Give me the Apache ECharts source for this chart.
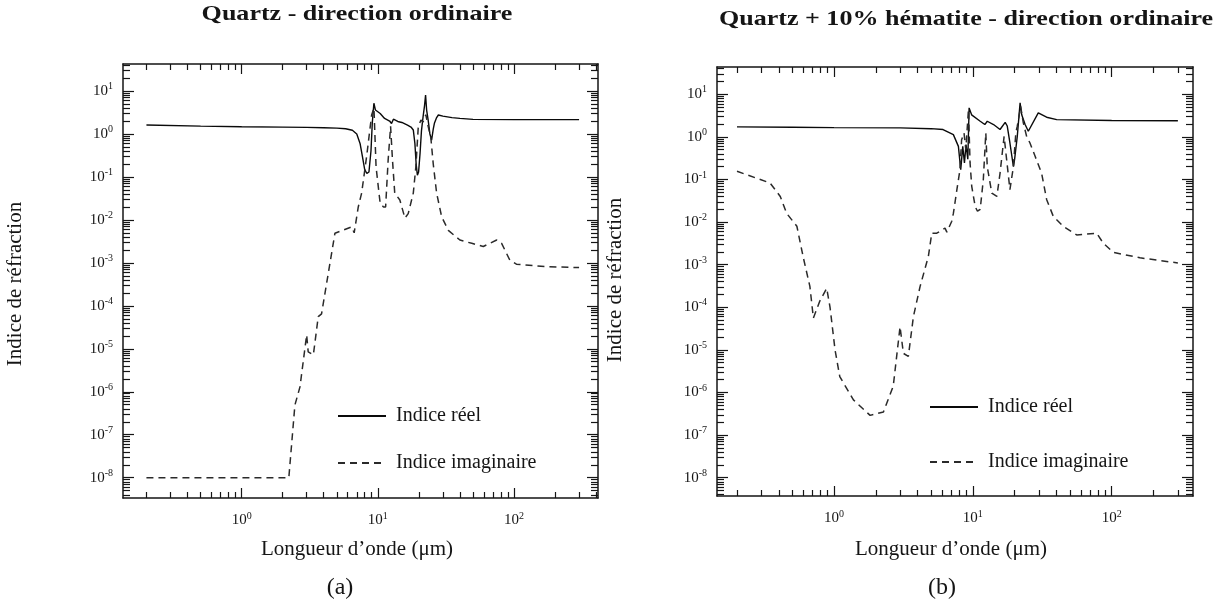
<!DOCTYPE html>
<html><head><meta charset="utf-8">
<script src="https://cdn.jsdelivr.net/npm/echarts@6/dist/echarts.min.js"></script>
<style>html,body{margin:0;padding:0;background:#fff}#c{width:1232px;height:609px}</style>
</head><body><div id="c"></div>
<script>
// ---------- Panel (a): Quartz - direction ordinaire ----------
const realA_lambda = [0.2,0.5,1,2,3,4,5,5.8,6.5,7.0,7.4,7.7,8.0,8.3,8.6,8.9,9.1,9.35,9.6,10.4,11.2,12.2,12.6,13.0,14.0,15.0,16.5,17.5,18.2,18.7,19.1,19.5,19.9,20.4,20.9,21.5,22.0,22.4,22.8,23.4,24.1,24.8,25.5,26,27,27.8,30,35,40,50,100,300];
const realA_n      = [1.62,1.52,1.47,1.44,1.42,1.4,1.37,1.32,1.22,1.0,0.6,0.3,0.15,0.12,0.13,0.4,1.8,5.2,3.6,3.0,2.3,2.0,1.75,2.2,1.95,1.85,1.6,1.45,1.24,0.6,0.2,0.11,0.13,0.35,1.2,2.6,4.5,8.0,3.6,2.1,1.0,0.72,1.3,1.77,2.4,2.76,2.6,2.4,2.3,2.19,2.16,2.15];
const imagA_lambda = [0.2,2.22,2.46,2.68,3.0,3.08,3.36,3.65,3.86,4.84,5.57,6.42,6.7,7.18,7.6,8.27,9.0,9.36,9.7,10.4,11.0,11.4,11.9,12.4,12.8,13.3,14.5,15.8,16.7,18.2,19.0,19.8,20.7,21.5,22.5,23.4,24.5,25.5,27,29.4,32.9,40,48.9,59.4,74.5,81,93,104,174,300];
const imagA_k      = [1e-8,1e-8,4.9e-7,1.3e-6,2.1e-5,8.5e-6,7.2e-6,5.6e-5,6.5e-5,4.9e-3,5.8e-3,6.9e-3,5.0e-3,0.02,0.042,0.3,2.76,4.0,0.17,0.024,0.02,0.02,0.25,1.5,0.25,0.042,0.029,0.011,0.014,0.042,0.17,1.48,2.1,1.9,2.8,1.5,0.8,0.2,0.042,0.0118,5.7e-3,3.4e-3,2.85e-3,2.4e-3,3.4e-3,2.85e-3,1.16e-3,9.3e-4,8.1e-4,7.8e-4];

// ---------- Panel (b): Quartz + 10% hématite - direction ordinaire ----------
const realB_lambda = [0.2,0.5,1,3,5,6.1,7.24,7.87,8.18,8.46,8.7,8.93,9.2,9.4,9.8,11.3,12.2,12.7,14.1,15.7,17.1,17.7,18.5,19.6,20,20.9,21.9,22.5,23.8,25.1,29.6,34,40.2,100,300];
const realB_n      = [1.72,1.68,1.65,1.63,1.56,1.49,1.13,0.6,0.17,0.6,0.245,0.66,0.3,4.8,3.3,2.33,1.95,2.33,1.95,1.49,2.2,1.8,0.72,0.2,0.3,1.03,6.3,3.3,1.95,1.36,3.66,2.9,2.55,2.42,2.4];
const imagB_lambda = [0.2,0.346,0.41,0.456,0.54,0.6,0.67,0.71,0.79,0.886,0.936,1.017,1.1,1.38,1.82,2.27,2.67,2.99,3.16,3.43,3.73,4.17,4.78,5.06,5.5,6.3,6.5,7.05,7.24,7.74,8.08,8.3,8.64,8.9,9.3,9.55,9.82,10.4,10.8,11.3,11.9,12.4,12.7,13.7,14.9,15.7,16.8,17.5,18.5,19.6,20.4,20.9,22.1,23.1,24.4,25.8,28.1,31.3,34,38,44.9,56,78,87,103,160,300];
const imagB_k      = [0.156,0.083,0.04,0.016,8e-3,1.5e-3,3.1e-4,5.6e-5,1.4e-4,2.8e-4,1e-4,1e-5,2.36e-6,6.7e-7,2.9e-7,3.5e-7,1.4e-6,3.5e-5,8.3e-6,7e-6,6e-5,3.1e-4,1.55e-3,5.5e-3,5.5e-3,7.2e-3,5.8e-3,0.0105,0.016,0.069,0.17,0.86,1.24,0.5,4.4,0.245,0.069,0.023,0.018,0.02,0.1,1.24,0.2,0.048,0.04,0.14,1.03,0.3,0.058,0.2,1.24,1.78,5.2,2.14,1.03,0.72,0.35,0.14,0.034,0.0136,7.9e-3,5e-3,5.5e-3,3.2e-3,1.95e-3,1.45e-3,1.1e-3];

// ---------- texts & tick labels ----------
const titles = ['Quartz - direction ordinaire', 'Quartz + 10% hématite - direction ordinaire'];
const panelLabels = ['(a)', '(b)'];
const xAxisTitle = 'Longueur d\u2019onde (\u03bcm)';
const yAxisTitle = 'Indice de réfraction';
const seriesNames = ['Indice réel', 'Indice imaginaire'];
const xTickExponents = [0, 1, 2];          // labels 10^0, 10^1, 10^2
const yTickExponents = [1, 0, -1, -2, -3, -4, -5, -6, -7, -8];

const SERIF = '"Liberation Serif", "DejaVu Serif", serif';
const INK = '#151515';

function pairs(xs, ys) { return xs.map((x, i) => [Math.log10(x), Math.log10(ys[i])]); }
function minorTicks(dFrom, dTo) {
  const out = [];
  for (let d = dFrom; d <= dTo; d++) for (let k = 2; k <= 9; k++) out.push(Math.log10(k) + d);
  return out;
}
const xMinor = minorTicks(-1, 2);
const yMinor = minorTicks(-9, 1);

const tickLine = { color: INK, width: 1.2 };
const labelRich = {
  b: { fontFamily: SERIF, fontSize: 15, color: INK },
  s: { fontFamily: SERIF, fontSize: 10, color: INK, padding: [0, 0, 9, 0] }
};
const fmt = v => '{b|10}{s|' + Math.round(v) + '}';
const solidAxisLine = { show: true, onZero: false, lineStyle: { color: INK, width: 1.5 } };
const noAxisLine = { show: false, onZero: false };

function xAxes(g, min, max) {
  const base = { type: 'value', gridIndex: g, min, max, splitLine: { show: false } };
  return [
    Object.assign({}, base, { position: 'bottom', axisLine: solidAxisLine,
      axisTick: { show: true, inside: true, length: 10, customValues: xTickExponents, lineStyle: tickLine },
      axisLabel: { show: true, customValues: xTickExponents, formatter: fmt, rich: labelRich, margin: 13 } }),
    Object.assign({}, base, { position: 'bottom', axisLine: noAxisLine,
      axisTick: { show: true, inside: true, length: 6, customValues: xMinor, lineStyle: tickLine },
      axisLabel: { show: false } }),
    Object.assign({}, base, { position: 'top', axisLine: solidAxisLine,
      axisTick: { show: true, inside: true, length: 10, customValues: xTickExponents, lineStyle: tickLine },
      axisLabel: { show: false } }),
    Object.assign({}, base, { position: 'top', axisLine: noAxisLine,
      axisTick: { show: true, inside: true, length: 6, customValues: xMinor, lineStyle: tickLine },
      axisLabel: { show: false } })
  ];
}
function yAxes(g, min, max) {
  const base = { type: 'value', gridIndex: g, min, max, splitLine: { show: false } };
  return [
    Object.assign({}, base, { position: 'left', axisLine: solidAxisLine,
      axisTick: { show: true, inside: true, length: 11, customValues: yTickExponents, lineStyle: tickLine },
      axisLabel: { show: true, customValues: yTickExponents, formatter: fmt, rich: labelRich, margin: 10 } }),
    Object.assign({}, base, { position: 'left', axisLine: noAxisLine,
      axisTick: { show: true, inside: true, length: 7, customValues: yMinor, lineStyle: tickLine },
      axisLabel: { show: false } }),
    Object.assign({}, base, { position: 'right', axisLine: solidAxisLine,
      axisTick: { show: true, inside: true, length: 11, customValues: yTickExponents, lineStyle: tickLine },
      axisLabel: { show: false } }),
    Object.assign({}, base, { position: 'right', axisLine: noAxisLine,
      axisTick: { show: true, inside: true, length: 7, customValues: yMinor, lineStyle: tickLine },
      axisLabel: { show: false } })
  ];
}

function mkSeries(name, data, xi, yi, dashed) {
  return {
    name, type: 'line', data, xAxisIndex: xi, yAxisIndex: yi, showSymbol: false, symbol: 'none',
    smooth: false, animation: false, silent: true,
    lineStyle: dashed ? { color: '#2a2a2a', width: 1.5, type: [7, 5] } : { color: '#0a0a0a', width: 1.4 },
    itemStyle: { color: dashed ? '#2a2a2a' : '#0a0a0a' }
  };
}

function legendAt(left, top, gap) {
  return {
    orient: 'vertical', left, top, padding: 0, itemWidth: 48, itemHeight: 14, itemGap: gap, selectedMode: false,
    itemStyle: { opacity: 0, borderWidth: 0 },
    data: seriesNames.slice(),
    textStyle: { fontFamily: SERIF, fontSize: 20, color: INK, lineHeight: 20, padding: [0, 0, 0, 5] }
  };
}

function txt(text, x, y, font, extra) {
  return Object.assign({ type: 'text', x, y, silent: true,
    style: { text, font, fill: INK, align: 'center', verticalAlign: 'middle', textAlign: 'center', textVerticalAlign: 'middle' } }, extra || {});
}

const chart = echarts.init(document.getElementById('c'), null, { renderer: 'canvas' });
chart.setOption({
  animation: false,
  backgroundColor: '#ffffff',
  grid: [
    { left: 123, top: 64, width: 475, height: 434 },
    { left: 717, top: 67, width: 476, height: 429 }
  ],
  xAxis: [].concat(xAxes(0, -0.871, 2.616), xAxes(1, -0.843, 2.586)),
  yAxis: [].concat(yAxes(0, -8.472, 1.628), yAxes(1, -8.43, 1.641)),
  legend: [legendAt(337, 406, 27), legendAt(929, 397, 35)],
  series: [
    mkSeries(seriesNames[0], pairs(realA_lambda, realA_n), 0, 0, false),
    mkSeries(seriesNames[1], pairs(imagA_lambda, imagA_k), 0, 0, true),
    mkSeries(seriesNames[0], pairs(realB_lambda, realB_n), 4, 4, false),
    mkSeries(seriesNames[1], pairs(imagB_lambda, imagB_k), 4, 4, true)
  ],
  graphic: [
    txt(titles[0], 357, 15, 'bold 21px ' + SERIF, { scaleX: 1.24 }),
    txt(titles[1], 966, 20, 'bold 21px ' + SERIF, { scaleX: 1.24 }),
    txt(xAxisTitle, 357, 549, '21px ' + SERIF),
    txt(xAxisTitle, 951, 549, '21px ' + SERIF),
    txt(panelLabels[0], 340, 588, '24px ' + SERIF),
    txt(panelLabels[1], 942, 588, '24px ' + SERIF),
    txt(yAxisTitle, 15, 284, '21px ' + SERIF, { rotation: Math.PI / 2 }),
    txt(yAxisTitle, 615, 280, '21px ' + SERIF, { rotation: Math.PI / 2 })
  ]
});
</script></body></html>
